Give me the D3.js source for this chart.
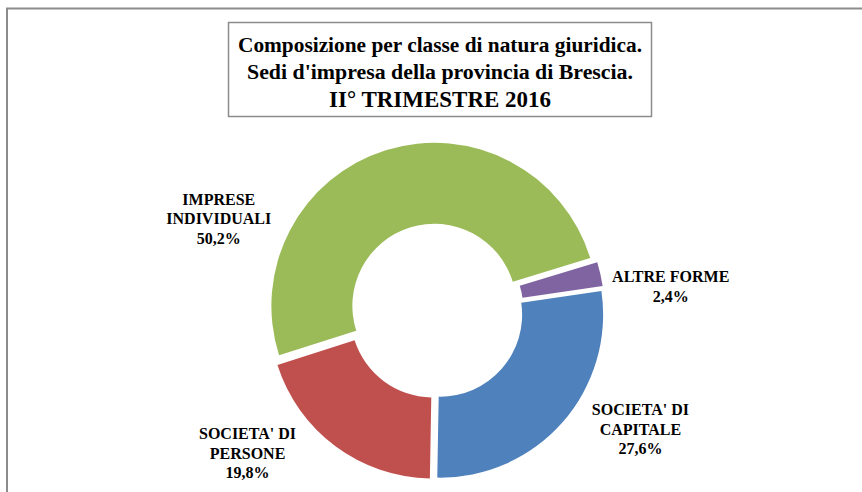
<!DOCTYPE html>
<html>
<head>
<meta charset="utf-8">
<script src="https://cdn.jsdelivr.net/npm/d3@7"></script>
<style>
  html, body { margin: 0; padding: 0; background: #fff; }
  svg { display: block; }
  text { font-family: "Times New Roman", "Liberation Serif", serif; font-weight: bold; fill: #000; }
</style>
</head>
<body>
<div id="chart"></div>
<script>
// data, clockwise order as drawn
var categories = ["SOCIETA' DI CAPITALE", "SOCIETA' DI PERSONE", "IMPRESE INDIVIDUALI", "ALTRE FORME"];
var labelLines = [["SOCIETA' DI", "CAPITALE"], ["SOCIETA' DI", "PERSONE"], ["IMPRESE", "INDIVIDUALI"], ["ALTRE FORME"]];
var shares = [27.6, 19.8, 50.2, 2.4];
var colors = ["#4F81BD", "#C0504D", "#9BBB59", "#8064A2"];
var titleLines = ["Composizione per classe di natura giuridica.", "Sedi d'impresa della provincia di Brescia.", "II° TRIMESTRE  2016"];

var width = 862, height = 492;
var cx = 436, cy = 311,
    outerR = 163, innerR = 82,
    explode = 5.5,
    labelR = 236,
    labelAngles = [120, 233, 293, 84]; // degrees, clockwise from top

var rad = Math.PI / 180;

var svg = d3.select("#chart").append("svg")
    .attr("width", width)
    .attr("height", height);

// outer frame (only top and left edges visible)
svg.append("path")
    .attr("d", "M7,492 V8.5 H862")
    .attr("fill", "none")
    .attr("stroke", "#8c8c8c")
    .attr("stroke-width", 2);

// title box
svg.append("rect")
    .attr("x", 228.5).attr("y", 22.5)
    .attr("width", 423).attr("height", 94)
    .attr("fill", "#fff")
    .attr("stroke", "#8c8c8c")
    .attr("stroke-width", 1.5);

var titleSizes = [20, 20, 23],
    titleY = [52, 79, 107],
    titleW = [404, 386, 222];

svg.selectAll("text.title")
    .data(titleLines)
    .enter().append("text")
    .attr("class", "title")
    .attr("x", 440)
    .attr("y", function(d, i) { return titleY[i]; })
    .attr("text-anchor", "middle")
    .attr("textLength", function(d, i) { return titleW[i]; })
    .attr("lengthAdjust", "spacingAndGlyphs")
    .style("font-size", function(d, i) { return titleSizes[i] + "px"; })
    .text(function(d) { return d; });

// donut
var pie = d3.pie()
    .sort(null)
    .value(function(d) { return d; })
    .startAngle(81.64 * rad)
    .endAngle(81.64 * rad + 2 * Math.PI);

var arc = d3.arc()
    .innerRadius(innerR)
    .outerRadius(outerR);

var arcs = pie(shares);

var g = svg.append("g")
    .attr("transform", "translate(" + cx + "," + cy + ")");

g.selectAll("path.slice")
    .data(arcs)
    .enter().append("path")
    .attr("class", "slice")
    .attr("d", arc)
    .attr("fill", function(d, i) { return colors[i]; })
    .attr("transform", function(d) {
        var mid = (d.startAngle + d.endAngle) / 2;
        return "translate(" + (Math.sin(mid) * explode) + "," + (-Math.cos(mid) * explode) + ")";
    });

// labels
var labelArc = d3.arc().innerRadius(labelR).outerRadius(labelR);
var lineH = 19.5;

var labels = g.selectAll("g.label")
    .data(arcs)
    .enter().append("g")
    .attr("class", "label")
    .attr("transform", function(d, i) {
        var a = labelAngles[i] * rad;
        var p = labelArc.centroid({startAngle: a, endAngle: a});
        return "translate(" + p[0] + "," + p[1] + ")";
    });

labels.each(function(d, i) {
    var lines = labelLines[i].concat([d3.format(".1f")(shares[i]).replace(".", ",") + "%"]);
    var top = -(lines.length - 1) * lineH / 2;
    d3.select(this).selectAll("text")
        .data(lines)
        .enter().append("text")
        .attr("text-anchor", "middle")
        .attr("y", function(t, j) { return top + j * lineH + 5.5; })
        .style("font-size", "16px")
        .text(function(t) { return t; });
});
</script>
</body>
</html>
